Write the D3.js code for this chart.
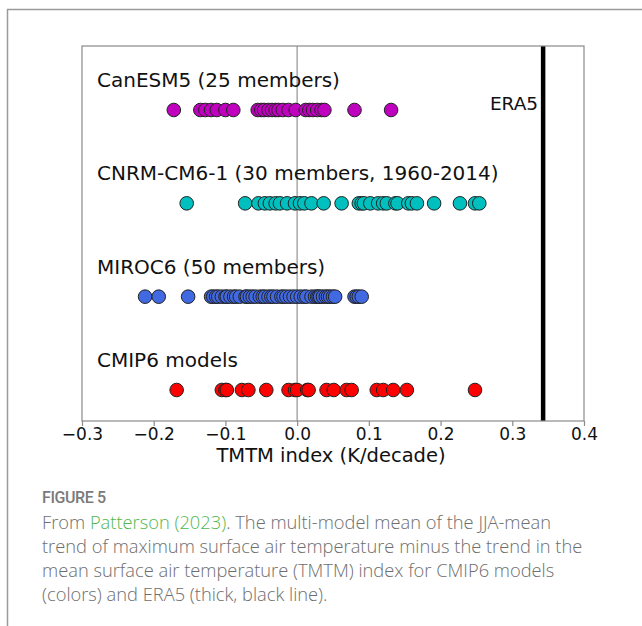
<!DOCTYPE html>
<html><head><meta charset="utf-8">
<script src="https://cdn.jsdelivr.net/npm/d3@7"></script>
<style>
html,body{margin:0;padding:0;background:#fff;}
svg{display:block;}
</style></head>
<body>
<script>
const categories = ["CanESM5 (25 members)", "CNRM-CM6-1 (30 members, 1960-2014)", "MIROC6 (50 members)", "CMIP6 models"];
const canesm5 = [-0.172,-0.135,-0.128,-0.120,-0.112,-0.100,-0.089,-0.055,-0.050,-0.046,-0.040,-0.035,-0.030,-0.026,-0.020,-0.012,-0.002,0.012,0.017,0.022,0.028,0.034,0.038,0.080,0.131];
const cnrm = [-0.154,-0.0725,-0.054,-0.045,-0.038,-0.030,-0.024,-0.014,-0.003,0.004,0.010,0.020,0.037,0.062,0.086,0.090,0.093,0.102,0.113,0.120,0.125,0.137,0.140,0.155,0.160,0.167,0.191,0.227,0.248,0.254];
const miroc6 = [-0.212,-0.193,-0.152,-0.120,-0.117,-0.113,-0.110,-0.105,-0.100,-0.098,-0.093,-0.088,-0.085,-0.080,-0.072,-0.070,-0.066,-0.062,-0.058,-0.052,-0.048,-0.045,-0.040,-0.036,-0.033,-0.028,-0.022,-0.019,-0.015,-0.010,-0.005,0.000,0.005,0.010,0.013,0.020,0.025,0.028,0.030,0.032,0.036,0.040,0.043,0.046,0.050,0.053,0.080,0.083,0.086,0.090];
const cmip6 = [-0.168,-0.105,-0.100,-0.098,-0.077,-0.068,-0.043,-0.012,-0.003,0.000,0.014,0.016,0.041,0.051,0.069,0.076,0.111,0.120,0.134,0.153,0.248];
const seriesValues = [canesm5, cnrm, miroc6, cmip6];
const seriesColors = ["#bf00bf", "#00bfbf", "#4169e1", "#ff0000"];
const era5 = 0.343;
const xTicks = [-0.3,-0.2,-0.1,0.0,0.1,0.2,0.3,0.4];
const xLabel = "TMTM index (K/decade)";

const W = 642, H = 626;
const svg = d3.select("body").append("svg").attr("width", W).attr("height", H);

// outer frame (top + left)
svg.append("line").attr("x1",7).attr("x2",W).attr("y1",9.5).attr("y2",9.5).attr("stroke","#9a9a9a").attr("stroke-width",1.5);
svg.append("line").attr("x1",7.5).attr("x2",7.5).attr("y1",9).attr("y2",H).attr("stroke","#9a9a9a").attr("stroke-width",1.5);

const L = 82, R = 584, T = 46, B = 421;
const x = d3.scaleLinear().domain([-0.3, 0.4]).range([L, R]);
const y = d3.scalePoint().domain(categories).range([110, 390]);

// zero line
svg.append("line").attr("x1",x(0)).attr("x2",x(0)).attr("y1",T).attr("y2",B).attr("stroke","#a8a8a8").attr("stroke-width",1.5);

// ERA5 line
svg.append("line").attr("x1",x(era5)).attr("x2",x(era5)).attr("y1",T).attr("y2",B).attr("stroke","#000").attr("stroke-width",4.5);
svg.append("text").attr("x",x(era5)-5).attr("y",103).attr("text-anchor","end").attr("dominant-baseline","central")
  .attr("font-family","DejaVu Sans").attr("font-size",18.5).attr("fill","#111").text("ERA5");

// points
categories.forEach((c,i)=>{
  svg.append("g").selectAll("circle").data(seriesValues[i]).join("circle")
    .attr("cx", d=>x(d)).attr("cy", y(c)).attr("r", 6.8)
    .attr("fill", seriesColors[i]).attr("stroke","#222").attr("stroke-width",1);
  svg.append("text").attr("x",97).attr("y",y(c)-30).attr("dominant-baseline","central")
    .attr("font-family","DejaVu Sans").attr("font-size",20).attr("fill","#111").text(c);
});

// frame
svg.append("rect").attr("x",L).attr("y",T).attr("width",R-L).attr("height",B-T)
  .attr("fill","none").attr("stroke","#8a8a8a").attr("stroke-width",1.2);

// x axis
const ax = svg.append("g").attr("transform",`translate(0,${B})`)
  .call(d3.axisBottom(x).tickValues(xTicks).tickSize(5).tickPadding(2).tickFormat(d=>d3.format(".1f")(d).replace("-","\u2212")));
ax.select(".domain").remove();
ax.selectAll("line").attr("stroke","#8a8a8a").attr("stroke-width",1.2);
ax.selectAll("text").attr("font-family","DejaVu Sans").attr("font-size",17).attr("fill","#111");
svg.append("text").attr("x",(L+R)/2-2).attr("y",455).attr("text-anchor","middle").attr("dominant-baseline","central")
  .attr("font-family","DejaVu Sans").attr("font-size",19.5).attr("fill","#111").text(xLabel);

// caption
svg.append("text").attr("x",42).attr("y",497).attr("dominant-baseline","central")
  .attr("font-family","Roboto, sans-serif").attr("font-weight",500).attr("font-size",16)
  .attr("fill","#7a7a7a").attr("letter-spacing",-0.4).text("FIGURE 5");
const capLines = [
  [["From ","#6e6e6e"],["Patterson (2023)","#4fb84f"],[". The multi-model mean of the JJA-mean","#6e6e6e"]],
  [["trend of maximum surface air temperature minus the trend in the","#6e6e6e"]],
  [["mean surface air temperature (TMTM) index for CMIP6 models","#6e6e6e"]],
  [["(colors) and ERA5 (thick, black line).","#6e6e6e"]]
];
capLines.forEach((ln,i)=>{
  const t = svg.append("text").attr("x",42).attr("y",521+i*24).attr("dominant-baseline","central")
    .attr("font-family","Open Sans").attr("font-weight",300).attr("font-size",18.3);
  ln.forEach(s=>t.append("tspan").attr("fill",s[1]).text(s[0]));
});
</script>
</body></html>
